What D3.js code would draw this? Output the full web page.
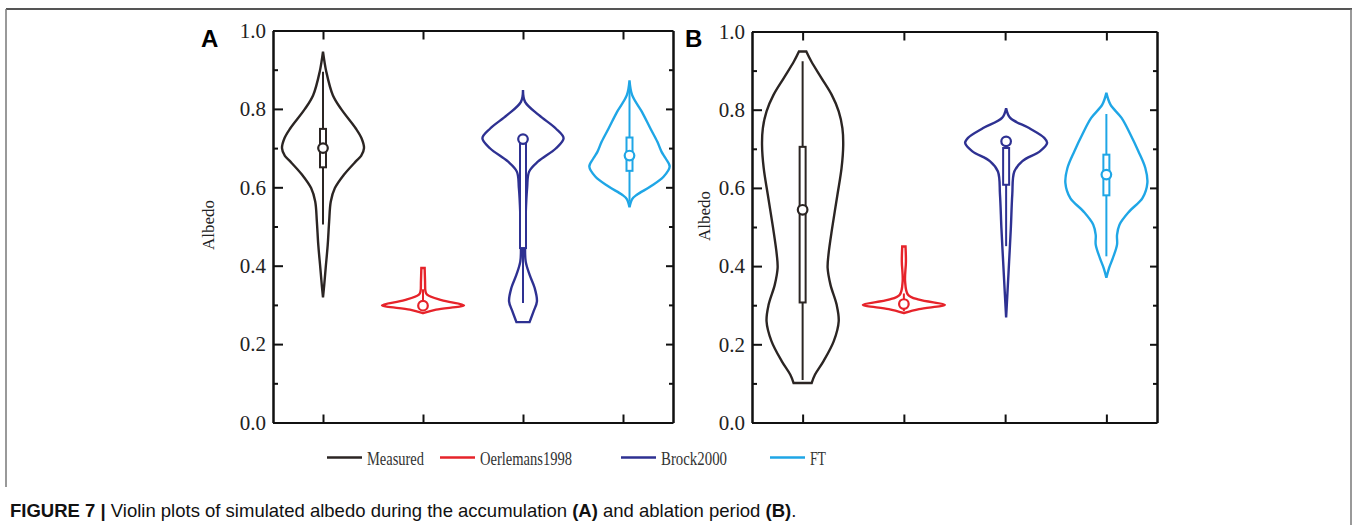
<!DOCTYPE html>
<meta charset="utf-8">
<script src="https://d3js.org/d3.v7.min.js"></script>
<style>
  body { margin: 0; background: #fff; }
  svg text { font-family: "Liberation Serif", "Times New Roman", serif; }
</style>
<body>
<div id="chart"></div>
<script>

// series names, same order in both panels
var categories = ["Measured", "Oerlemans1998", "Brock2000", "FT"];
var colors = ["#2b2523", "#e6232a", "#2e3192", "#1fa6e6"];

var yTicksMajor = [0, 0.2, 0.4, 0.6, 0.8, 1.0];
var yTicksMinor = [0.1, 0.3, 0.5, 0.7, 0.9];

// violin outlines: [albedo, relative half width]
var profA_measured = [[0.946,0],[0.895,0.08],[0.835,0.24],[0.80,0.44],[0.75,0.80],[0.725,0.94],[0.70,1.0],[0.68,0.93],[0.666,0.80],[0.632,0.51],[0.598,0.29],[0.564,0.19],[0.513,0.15],[0.453,0.115],[0.394,0.065],[0.351,0.03],[0.319,0]];
var profA_oerlemans = [[0.394,0.04],[0.36,0.05],[0.335,0.06],[0.326,0.1],[0.312,0.45],[0.299,1.0],[0.288,0.32],[0.279,0]];
var profA_brock = [[0.848,0],[0.818,0.05],[0.784,0.39],[0.750,0.80],[0.725,0.99],[0.699,0.80],[0.666,0.37],[0.640,0.15],[0.598,0.10],[0.53,0.065],[0.453,0.05],[0.411,0.065],[0.377,0.16],[0.343,0.285],[0.309,0.34],[0.284,0.26],[0.256,0.16]];
var profA_ft = [[0.873,0],[0.835,0.065],[0.793,0.30],[0.750,0.51],[0.716,0.68],[0.691,0.78],[0.674,0.88],[0.653,0.98],[0.627,0.83],[0.602,0.51],[0.581,0.18],[0.57,0.065],[0.549,0]];

var profB_measured = [[0.949,0.09],[0.924,0.21],[0.881,0.46],[0.838,0.71],[0.796,0.88],[0.753,0.97],[0.710,0.99],[0.651,0.95],[0.583,0.85],[0.497,0.72],[0.429,0.63],[0.395,0.61],[0.352,0.68],[0.301,0.83],[0.259,0.88],[0.208,0.76],[0.157,0.51],[0.122,0.30],[0.101,0.22]];
var profB_oerlemans = [[0.450,0.04],[0.412,0.05],[0.361,0.03],[0.327,0.1],[0.314,0.37],[0.301,1.0],[0.290,0.37],[0.280,0]];
var profB_brock = [[0.804,0],[0.779,0.10],[0.753,0.56],[0.728,0.93],[0.715,1.0],[0.694,0.83],[0.668,0.39],[0.642,0.20],[0.583,0.15],[0.497,0.115],[0.412,0.073],[0.327,0.03],[0.269,0]];
var profB_ft = [[0.843,0],[0.813,0.10],[0.779,0.37],[0.736,0.59],[0.694,0.78],[0.651,0.95],[0.613,1.0],[0.574,0.88],[0.540,0.56],[0.506,0.32],[0.480,0.26],[0.455,0.26],[0.421,0.16],[0.395,0.065],[0.370,0]];

// box stats: [whisker low, q1, median, q3, whisker high]
var statsA = [[0.505,0.651,0.70,0.749,0.895],[0.285,0.295,0.298,0.302,0.34],[0.305,0.445,0.723,0.712,0.735],[0.563,0.642,0.681,0.727,0.86]];
var statsB = [[0.109,0.307,0.544,0.705,0.924],[0.285,0.298,0.303,0.31,0.33],[0.451,0.608,0.719,0.702,0.73],[0.425,0.581,0.634,0.685,0.789]];

var panels = [
  {label: "A", xr: [273, 673], yr: [422.5, 30.5], profiles: [profA_measured, profA_oerlemans, profA_brock, profA_ft], stats: statsA, nudge: [0,0,0,6.5], ylab: [208, 225], letter: [201, 47]},
  {label: "B", xr: [752, 1157], yr: [422.5, 31.5], profiles: [profB_measured, profB_oerlemans, profB_brock, profB_ft], stats: statsB, nudge: [0,0,1,0], ylab: [704, 216], letter: [685, 47]}
];

var width = 1352, height = 525;

var svg = d3.select("#chart")
  .append("svg")
    .attr("width", width)
    .attr("height", height);

// outer frame of the figure
svg.append("line").attr("x1", 6).attr("x2", 1352).attr("y1", 9).attr("y2", 9)
  .attr("stroke", "#555").attr("stroke-width", 2);
svg.append("line").attr("x1", 6).attr("x2", 6).attr("y1", 9).attr("y2", 487)
  .attr("stroke", "#777").attr("stroke-width", 1.5);
svg.append("line").attr("x1", 1351).attr("x2", 1351).attr("y1", 9).attr("y2", 525)
  .attr("stroke", "#777").attr("stroke-width", 1.5);

function drawPanel(p) {
  var g = svg.append("g");

  var x = d3.scalePoint().domain(categories).range(p.xr).padding(0.5);
  var y = d3.scaleLinear().domain([0, 1]).range(p.yr);
  var w = d3.scaleLinear().domain([0, 1]).range([0, 41]);

  categories.forEach(function(c, i) {
    var cx = x(c) + p.nudge[i];
    var area = d3.area()
      .curve(d3.curveCatmullRom.alpha(0.5))
      .y(function(d) { return y(d[0]); })
      .x0(function(d) { return cx - w(d[1]); })
      .x1(function(d) { return cx + w(d[1]); });

    g.append("path")
      .attr("d", area(p.profiles[i]))
      .attr("fill", "none")
      .attr("stroke", colors[i])
      .attr("stroke-width", 2.4);

    var s = p.stats[i];
    g.append("line")
      .attr("x1", cx).attr("x2", cx)
      .attr("y1", y(s[0])).attr("y2", y(s[4]))
      .attr("stroke", colors[i]).attr("stroke-width", 2);
    g.append("rect")
      .attr("x", cx - 3)
      .attr("width", 6)
      .attr("y", y(Math.max(s[1], s[3])))
      .attr("height", Math.abs(y(s[1]) - y(s[3])))
      .attr("fill", "#fff")
      .attr("stroke", colors[i]).attr("stroke-width", 2);
    g.append("circle")
      .attr("cx", cx).attr("cy", y(s[2]))
      .attr("r", 4.8)
      .attr("fill", "#fff")
      .attr("stroke", colors[i]).attr("stroke-width", 2.2);
  });

  // axes, ticks pointing inward
  var left = g.append("g")
    .attr("transform", "translate(" + p.xr[0] + ",0)")
    .call(d3.axisLeft(y).tickValues(yTicksMajor).tickFormat(d3.format(".1f")).tickSize(-10).tickSizeOuter(0).tickPadding(7));
  left.selectAll("text").attr("font-size", 21).attr("fill", "#222");
  g.append("g")
    .attr("transform", "translate(" + p.xr[0] + ",0)")
    .call(d3.axisLeft(y).tickValues(yTicksMinor).tickFormat("").tickSize(-5).tickSizeOuter(0));
  g.append("g")
    .attr("transform", "translate(" + p.xr[1] + ",0)")
    .call(d3.axisRight(y).tickValues(yTicksMajor).tickFormat("").tickSize(-7).tickSizeOuter(0));
  g.append("g")
    .attr("transform", "translate(" + p.xr[1] + ",0)")
    .call(d3.axisRight(y).tickValues(yTicksMinor).tickFormat("").tickSize(-4).tickSizeOuter(0));
  g.append("g")
    .attr("transform", "translate(0," + p.yr[1] + ")")
    .call(d3.axisTop(x).tickFormat("").tickSize(-9).tickSizeOuter(0));
  g.append("g")
    .attr("transform", "translate(0," + p.yr[0] + ")")
    .call(d3.axisBottom(x).tickFormat("").tickSize(-8).tickSizeOuter(0));

  g.selectAll(".domain, .tick line").attr("stroke", "#111").attr("stroke-width", 2);

  g.append("text")
    .text("Albedo")
    .attr("font-size", 17)
    .attr("text-anchor", "middle")
    .attr("fill", "#222")
    .attr("transform", "translate(" + (p.ylab[0] + 6) + "," + p.ylab[1] + ")rotate(-90)");

  g.append("text")
    .text(p.label)
    .attr("x", p.letter[0]).attr("y", p.letter[1])
    .attr("font-size", 24)
    .attr("font-weight", "bold")
    .style("font-family", "'Liberation Sans', Arial, sans-serif")
    .attr("fill", "#000");
}

panels.forEach(drawPanel);

// legend
var legendX = [327, 440, 621, 770];
var legendW = [57, 92, 66, 16];
var lg = svg.append("g");
categories.forEach(function(c, i) {
  lg.append("line")
    .attr("x1", legendX[i]).attr("x2", legendX[i] + 35)
    .attr("y1", 457.5).attr("y2", 457.5)
    .attr("stroke", colors[i]).attr("stroke-width", 2.5);
  lg.append("text")
    .text(c)
    .attr("x", legendX[i] + 40)
    .attr("y", 464.5)
    .attr("font-size", 19)
    .attr("textLength", legendW[i])
    .attr("lengthAdjust", "spacingAndGlyphs")
    .attr("fill", "#333");
});

// caption
var cap = svg.append("text")
  .attr("x", 10).attr("y", 517)
  .attr("font-size", 18.5)
  .style("font-family", "'Liberation Sans', Arial, sans-serif")
  .attr("fill", "#111");
cap.append("tspan").attr("font-weight", "bold").text("FIGURE 7 | ");
cap.append("tspan").text("Violin plots of simulated albedo during the accumulation ");
cap.append("tspan").attr("font-weight", "bold").text("(A)");
cap.append("tspan").text(" and ablation period ");
cap.append("tspan").attr("font-weight", "bold").text("(B)");
cap.append("tspan").text(".");

</script>
</body>
